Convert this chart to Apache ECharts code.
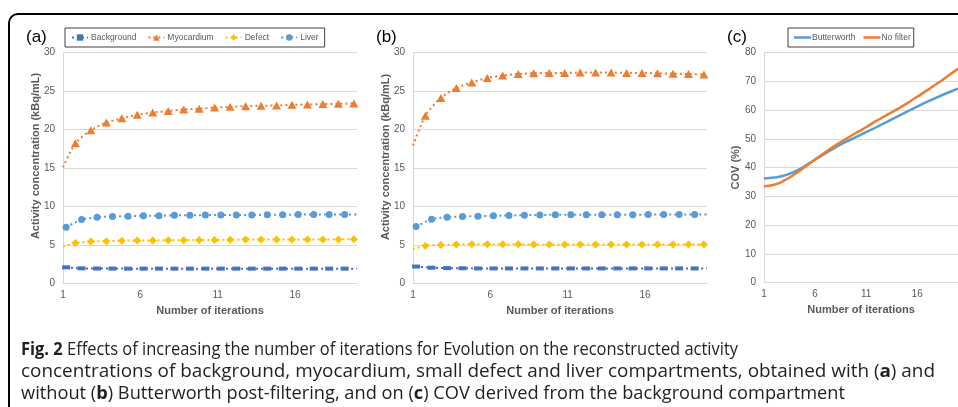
<!DOCTYPE html>
<html>
<head>
<meta charset="utf-8">
<script src="https://cdn.jsdelivr.net/npm/echarts@6/dist/echarts.min.js"></script>
<style>
html,body{margin:0;padding:0;background:#fff;}
#chart{width:958px;height:407px;}
</style>
</head>
<body>
<div id="chart"></div>
<script>
// ---------- data ----------
// x positions of markers (liver & background): last entry = line end (no marker)
const itersLB = [1.2, 2.2, 3.2, 4.2, 5.2, 6.2, 7.2, 8.2, 9.2, 10.2, 11.2, 12.2, 13.2, 14.2, 15.2, 16.2, 17.2, 18.2, 19.2, 20];
// x positions (myocardium & defect): first entry = line start (no marker)
const itersMD = [1, 1.8, 2.8, 3.8, 4.8, 5.8, 6.8, 7.8, 8.8, 9.8, 10.8, 11.8, 12.8, 13.8, 14.8, 15.8, 16.8, 17.8, 18.8, 19.8];
const itersC = [1, 2, 3, 4, 5, 6, 7, 8, 9, 10, 11, 12, 13, 14, 15, 16, 17, 18, 19, 20];

// (a) with Butterworth
const backgroundA = [2.1, 1.97, 1.95, 1.94, 1.93, 1.93, 1.93, 1.93, 1.93, 1.93, 1.93, 1.93, 1.93, 1.93, 1.93, 1.93, 1.93, 1.93, 1.93, 1.93];
const myocardiumA = [15.1, 18.2, 19.9, 20.9, 21.45, 21.9, 22.2, 22.4, 22.6, 22.7, 22.85, 22.95, 23.03, 23.08, 23.12, 23.2, 23.25, 23.3, 23.34, 23.38];
const defectA = [4.8, 5.25, 5.45, 5.5, 5.55, 5.6, 5.6, 5.62, 5.63, 5.65, 5.65, 5.68, 5.7, 5.7, 5.7, 5.7, 5.72, 5.72, 5.73, 5.75];
const liverA = [7.3, 8.3, 8.6, 8.7, 8.75, 8.8, 8.8, 8.85, 8.85, 8.88, 8.9, 8.9, 8.9, 8.92, 8.92, 8.95, 8.95, 8.95, 8.95, 8.95];

// (b) no filter
const backgroundB = [2.2, 2.05, 2.0, 1.98, 1.96, 1.96, 1.96, 1.96, 1.96, 1.96, 1.96, 1.96, 1.96, 1.96, 1.96, 1.96, 1.96, 1.96, 1.96, 1.96];
const myocardiumB = [17.9, 21.8, 24.1, 25.4, 26.1, 26.7, 27.0, 27.2, 27.3, 27.35, 27.35, 27.4, 27.4, 27.4, 27.35, 27.35, 27.3, 27.25, 27.2, 27.15];
const defectB = [4.45, 4.9, 5.0, 5.05, 5.1, 5.1, 5.1, 5.1, 5.05, 5.05, 5.05, 5.05, 5.05, 5.05, 5.05, 5.05, 5.05, 5.05, 5.05, 5.05];
const liverB = [7.4, 8.35, 8.6, 8.7, 8.75, 8.8, 8.83, 8.87, 8.9, 8.92, 8.92, 8.92, 8.92, 8.92, 8.92, 8.95, 8.95, 8.95, 8.95, 8.95];

// (c) COV (%)
const covButterworth = [36.2, 36.5, 37.2, 38.6, 40.5, 42.7, 44.9, 47.0, 48.9, 50.6, 52.3, 54.0, 55.8, 57.6, 59.4, 61.2, 62.9, 64.5, 66.0, 67.4];
const covNoFilter = [33.5, 34.0, 35.5, 37.7, 40.2, 42.8, 45.3, 47.7, 49.9, 52.0, 54.0, 56.2, 58.2, 60.2, 62.3, 64.6, 66.9, 69.3, 71.8, 74.4];

const seriesNamesAB = ['Background', 'Myocardium', 'Defect', 'Liver'];
const seriesNamesC = ['Butterworth', 'No filter'];
const xTickLabels = [1, 6, 11, 16];
const yAxisNameAB = 'Activity concentration (kBq/mL)';
const yAxisNameC = 'COV (%)';
const xAxisName = 'Number of iterations';
const panelLabels = ['(a)', '(b)', '(c)'];

const captionLines = [
  [['Fig. 2', true], [' Effects of increasing the number of iterations for Evolution on the reconstructed activity', false]],
  [['concentrations of background, myocardium, small defect and liver compartments, obtained with (', false], ['a', true], [') and', false]],
  [['without (', false], ['b', true], [') Butterworth post-filtering, and on (', false], ['c', true], [') COV derived from the background compartment', false]]
];

// ---------- styles ----------
const FONT = '"Liberation Sans", Arial, sans-serif';
const colors = {Background: '#4472C4', Myocardium: '#ED7D31', Defect: '#FFC000', Liver: '#5B9BD5', Butterworth: '#5B9BD5', 'No filter': '#ED7D31'};
const symbols = {Background: ['rect', [8, 4]], Myocardium: ['triangle', [9, 8]], Defect: ['diamond', [8, 8]], Liver: ['circle', 7]};
const grey = '#595959';
const gridLine = '#d9d9d9';

function pts(xs, ys, hidden) {
  return xs.map((x, i) => hidden.indexOf(i) >= 0 ? {value: [x, ys[i]], symbol: 'none'} : [x, ys[i]]);
}

function dotSeries(name, g, xs, ys, hidden) {
  return {
    name: name, type: 'line', xAxisIndex: g, yAxisIndex: g,
    data: pts(xs, ys, hidden),
    symbol: symbols[name][0], symbolSize: symbols[name][1],
    smooth: 0.25,
    itemStyle: {color: colors[name]},
    lineStyle: {color: colors[name], width: 2, type: [2, 3]},
    z: 3
  };
}

const grids = [
  {left: 63, top: 52.5, width: 294, height: 231},
  {left: 413, top: 52.5, width: 294, height: 231},
  {left: 764, top: 52.5, width: 196, height: 230}
];

function xAxis(g) {
  return {
    type: 'value', gridIndex: g, min: 1, max: 20,
    name: xAxisName, nameLocation: 'middle', nameGap: 21,
    nameTextStyle: {fontFamily: FONT, fontWeight: 'bold', fontSize: 11, color: grey},
    axisLine: {show: true, lineStyle: {color: gridLine, width: 1}},
    axisTick: {show: false},
    splitLine: {show: false},
    axisLabel: {customValues: xTickLabels, fontFamily: FONT, fontSize: 10, color: grey, margin: 7}
  };
}
function yAxis(g, max, interval, name) {
  return {
    type: 'value', gridIndex: g, min: 0, max: max, interval: interval,
    name: name, nameLocation: 'middle', nameGap: 20,
    nameTextStyle: {fontFamily: FONT, fontWeight: 'bold', fontSize: 11, color: grey},
    axisLine: {show: true, lineStyle: {color: gridLine, width: 1}},
    axisTick: {show: false},
    splitLine: {show: true, lineStyle: {color: gridLine, width: 1}},
    axisLabel: {fontFamily: FONT, fontSize: 10, color: grey, margin: 8}
  };
}

// y-axis titles of (a) and (b) sit a little above the plot centre, as in the original
const yNameAB = [[35.5, 156], [386, 157]].map(p => ({
  type: 'text', x: p[0], y: p[1], rotation: Math.PI / 2,
  style: {text: yAxisNameAB, fontFamily: FONT, fontWeight: 'bold', fontSize: 11, fill: grey, align: 'center', verticalAlign: 'middle'}
}));

// ---------- caption layout ----------
const capFontSize = 18;
const capTargetW = [717, 914, 824];   // line widths in the reference layout
const capY = [350, 372, 393.6];
const mctx = document.createElement('canvas').getContext('2d');
function lineW(line, fam) {
  return line.reduce((s, p) => {
    mctx.font = (p[1] ? 'bold ' : '') + capFontSize + 'px ' + fam;
    return s + mctx.measureText(p[0]).width;
  }, 0);
}
// choose the installed font whose relative line widths best match the reference
const capCandidates = ['"Liberation Sans"', '"Open Sans"', 'Lato', '"Noto Sans"', 'Roboto', 'Inter', '"DejaVu Sans"', '"Liberation Sans Narrow"', '"DejaVu Sans Condensed"'];
let capFont = FONT, bestErr = Infinity;
capCandidates.forEach(f => {
  const w = captionLines.map(l => lineW(l, f));
  const err = Math.pow(w[0] / w[1] - capTargetW[0] / capTargetW[1], 2) + Math.pow(w[2] / w[1] - capTargetW[2] / capTargetW[1], 2);
  if (err < bestErr) { bestErr = err; capFont = f + ', sans-serif'; }
});
const captionGraphics = captionLines.map((line, i) => {
  const w = lineW(line, capFont);
  return {
    type: 'text', x: 21, y: capY[i], scaleX: capTargetW[i] / w,
    style: {
      text: line.map(p => p[1] ? '{b|' + p[0] + '}' : p[0]).join(''),
      fontFamily: capFont, fontSize: capFontSize, fill: '#231F20',
      verticalAlign: 'middle',
      rich: {b: {fontWeight: 'bold', fontFamily: capFont, fontSize: capFontSize, fill: '#231F20'}}
    }
  };
});

const labelX = [26, 376, 727];
const panelGraphics = panelLabels.map((t, i) => ({
  type: 'text', x: labelX[i], y: 37,
  style: {text: t, fontFamily: FONT, fontSize: 17, fill: '#000', verticalAlign: 'middle'}
}));

const chart = echarts.init(document.getElementById('chart'), null, {renderer: 'canvas'});
chart.setOption({
  animation: false,
  backgroundColor: '#fff',
  grid: grids,
  xAxis: [xAxis(0), xAxis(1), xAxis(2)],
  yAxis: [yAxis(0, 30, 5, ''), yAxis(1, 30, 5, ''), yAxis(2, 80, 10, yAxisNameC)],
  legend: [
    {
      data: seriesNamesAB, left: 65, top: 28, itemWidth: 16, itemHeight: 8, itemGap: 11,
      padding: [5, 6], borderColor: '#404040', borderWidth: 1,
      textStyle: {fontFamily: FONT, fontSize: 8.5, color: grey, padding: [0, 0, 0, -2]}
    },
    {
      data: seriesNamesC.map(n => ({name: n, icon: 'rect'})), left: 788, top: 28, itemWidth: 17, itemHeight: 2.5, itemGap: 8,
      padding: [5, 3, 5, 6], borderColor: '#404040', borderWidth: 1,
      textStyle: {fontFamily: FONT, fontSize: 8.5, color: grey, padding: [0, 0, 0, -4]}
    }
  ],
  graphic: [
    {type: 'rect', shape: {x: 9, y: 14, width: 1200, height: 700, r: 9}, style: {fill: 'none', stroke: '#000', lineWidth: 2}, silent: true}
  ].concat(panelGraphics, yNameAB, captionGraphics),
  series: [
    dotSeries('Background', 0, itersLB, backgroundA, [19]),
    dotSeries('Myocardium', 0, itersMD, myocardiumA, [0]),
    dotSeries('Defect', 0, itersMD, defectA, [0]),
    dotSeries('Liver', 0, itersLB, liverA, [19]),
    dotSeries('Background', 1, itersLB, backgroundB, [19]),
    dotSeries('Myocardium', 1, itersMD, myocardiumB, [0]),
    dotSeries('Defect', 1, itersMD, defectB, [0]),
    dotSeries('Liver', 1, itersLB, liverB, [19]),
    {name: 'Butterworth', type: 'line', xAxisIndex: 2, yAxisIndex: 2, data: itersC.map((x, i) => [x, covButterworth[i]]),
      symbol: 'none', smooth: true, lineStyle: {color: colors.Butterworth, width: 2.5}, itemStyle: {color: colors.Butterworth}},
    {name: 'No filter', type: 'line', xAxisIndex: 2, yAxisIndex: 2, data: itersC.map((x, i) => [x, covNoFilter[i]]),
      symbol: 'none', smooth: true, lineStyle: {color: colors['No filter'], width: 2.5}, itemStyle: {color: colors['No filter']}}
  ]
});
</script>
</body>
</html>
